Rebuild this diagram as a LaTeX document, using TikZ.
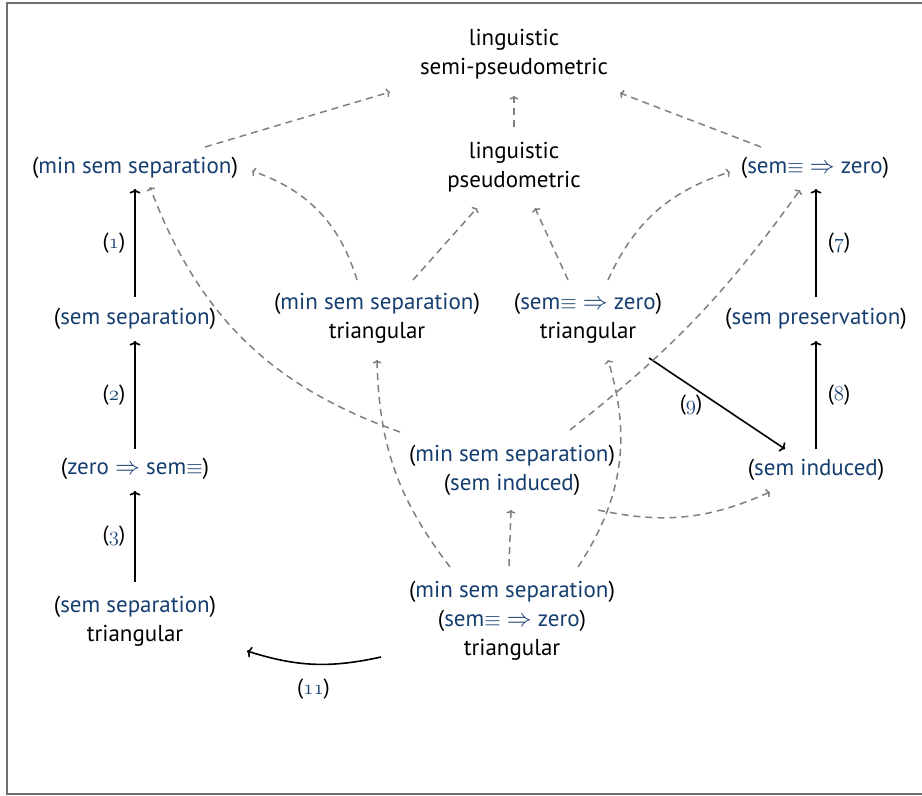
\documentclass[tikz,border=0pt]{standalone}
\usepackage{fontspec}
\setmainfont{PT Sans}
\usepackage{graphicx}
\usetikzlibrary{arrows.meta}

\definecolor{linkblue}{RGB}{22,62,112}
\definecolor{framegray}{RGB}{112,112,112}
\definecolor{dashgray}{RGB}{128,128,128}

% property names are typeset as coloured references in black parentheses
\newcommand\lnk[1]{\textcolor{linkblue}{#1}}
\newcommand\prp[1]{(\lnk{#1})}
\newcommand\seq{\scalebox{0.85}{$\equiv$}}
\newcommand\impl{$\Rightarrow$}
% step numbers with old-style figures
\newcommand\stp[1]{{\rmfamily(\lnk{$\mathnormal{#1}$})}}

\begin{document}
\begin{tikzpicture}[x=1pt,y=-1pt,
  txt/.style={align=center, inner sep=0pt, font=\fontsize{23}{29}\selectfont},
  lbl/.style={inner sep=0pt, font=\fontsize{22}{26}\selectfont},
  impl/.style={draw=black, line width=1.6pt, -{To[length=4.5pt,width=11pt]}},
  weak/.style={draw=dashgray, line width=1.5pt, dash pattern=on 7pt off 5pt,
    -{To[length=3.5pt,width=9pt]}}]
\useasboundingbox (0,0) rectangle (922,796);
\fill[white] (0,0) rectangle (922,796);
\draw[framegray, line width=2pt] (922,2.5) -- (7,2.5) -- (7,793.5) -- (922,793.5);

% nodes
\node[txt] (semi)   at (514,54)  {linguistic\\semi-pseudometric};
\node[txt] (pseudo) at (514,167) {linguistic\\pseudometric};
\node[txt] (mssL)   at (135,168) {\prp{min sem separation}};
\node[txt] (szR)    at (815,168) {\prp{sem\seq{} \impl{} zero}};
\node[txt] (ssL)    at (135,319) {\prp{sem separation}};
\node[txt] (zsL)    at (135,469) {\prp{zero \impl{} sem\seq}};
\node[txt] (sstL)   at (135,621) {\prp{sem separation}\\triangular};
\node[txt] (msst)   at (377,318) {\prp{min sem separation}\\triangular};
\node[txt] (szt)    at (588,318) {\prp{sem\seq{} \impl{} zero}\\triangular};
\node[txt] (spR)    at (816,319) {\prp{sem preservation}};
\node[txt] (siR)    at (816,470) {\prp{sem induced}};
\node[txt] (mssi)   at (512,470) {\prp{min sem separation}\\\prp{sem induced}};
\node[txt] (bot)    at (512,621) {\prp{min sem separation}\\\prp{sem\seq{} \impl{} zero}\\triangular};

% numbered implications
\draw[impl] ([shift={(0,-22)}]ssL.center) -- ([shift={(0,21)}]mssL.center)
  node[lbl, midway, left=9pt] {\stp{1}};
\draw[impl] ([shift={(0,-20)}]zsL.center) -- ([shift={(0,22)}]ssL.center)
  node[lbl, midway, left=9pt] {\stp{2}};
\draw[impl] ([shift={(0,-39)}]sstL.center) -- ([shift={(0,22)}]zsL.center)
  node[lbl, midway, left=9pt] {\stp{3}};
\draw[impl] ([shift={(0,-22)}]spR.center) -- ([shift={(1,21)}]szR.center)
  node[lbl, midway, right=11pt] {\stp{7}};
\draw[impl] ([shift={(0,-21)}]siR.center) -- ([shift={(0,22)}]spR.center)
  node[lbl, midway, right=11pt] {\stp{8}};
\draw[impl] ([shift={(61,40)}]szt.center) -- ([shift={(-31,-21)}]siR.center)
  node[lbl, midway, xshift=-26pt, yshift=-2pt] {\stp{9}};
\draw[impl] ([shift={(-131,36)}]bot.center) to[bend left=15]
  node[lbl, midway, yshift=-25pt] {\stp{11}} ([shift={(112,30)}]sstL.center);

% weaker implications
\draw[weak] ([shift={(70,-21)}]mssL.center) -- ([shift={(-124,38)}]semi.center);
\draw[weak] ([shift={(-54,-21)}]szR.center) -- ([shift={(106,39)}]semi.center);
\draw[weak] ([shift={(0,-40)}]pseudo.center) -- ([shift={(0,42)}]semi.center);
\draw[weak] ([shift={(-20,-38)}]msst.center) to[bend right=27] ([shift={(117,3)}]mssL.center);
\draw[weak] ([shift={(36,-38)}]msst.center) -- ([shift={(-37,41)}]pseudo.center);
\draw[weak] ([shift={(-20,-38)}]szt.center) -- ([shift={(21,41)}]pseudo.center);
\draw[weak] ([shift={(20,-38)}]szt.center) to[bend left=24] ([shift={(-85,4)}]szR.center);
\draw[weak] ([shift={(-112,-38)}]mssi.center) to[bend left=25] ([shift={(15,19)}]mssL.center);
\draw[weak] ([shift={(58,-40)}]mssi.center) to[bend right=8] ([shift={(-15,22)}]szR.center);
\draw[weak] ([shift={(-3,-55)}]bot.center) -- ([shift={(-1,40)}]mssi.center);
\draw[weak] ([shift={(-62,-54)}]bot.center) to[bend left=18] ([shift={(0,42)}]msst.center);
\draw[weak] ([shift={(66,-54)}]bot.center) to[bend right=25] ([shift={(20,42)}]szt.center);
\draw[weak] ([shift={(86,40)}]mssi.center) to[bend right=18] ([shift={(-46,22)}]siR.center);
\end{tikzpicture}
\end{document}
